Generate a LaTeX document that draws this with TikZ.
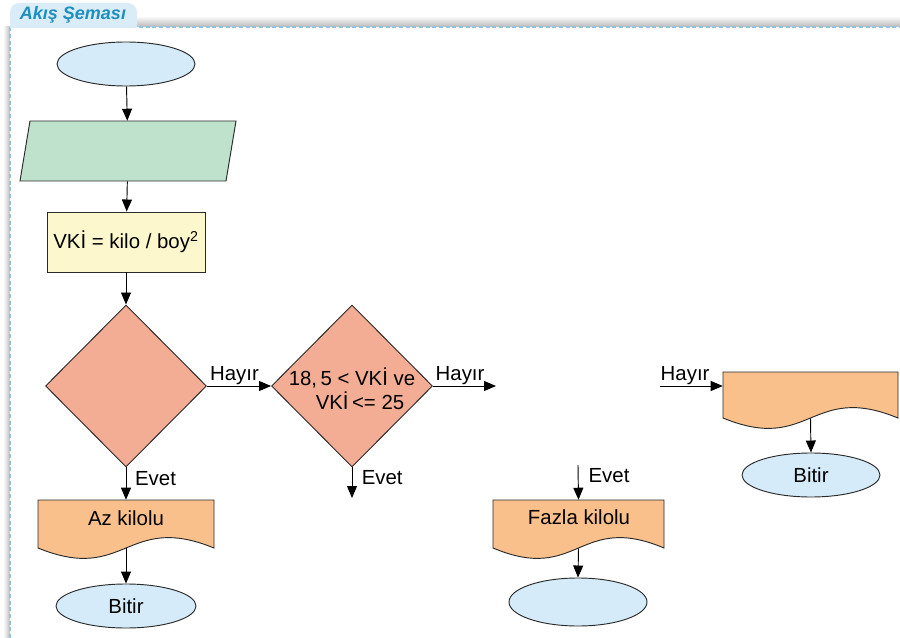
\documentclass[tikz,border=0pt]{standalone}
\usepackage{fontspec}
\setmainfont{Liberation Sans}
\usetikzlibrary{arrows.meta,shapes.geometric}
\definecolor{ellcol}{HTML}{D5EBF9}
\definecolor{iocol}{HTML}{BFE2CD}
\definecolor{proccol}{HTML}{FDF7CD}
\definecolor{deccol}{HTML}{F4AD95}
\definecolor{doccol}{HTML}{F9C08C}
\definecolor{tabcol}{HTML}{DAECF7}
\definecolor{titlecol}{HTML}{1E8FBF}
\definecolor{dashcol}{HTML}{8FC3E0}
\definecolor{linecol}{HTML}{2A2A2A}
\newcommand{\mydoc}[4]{%
  \filldraw[shapeline, fill=doccol] (#1,#2) -- (#3,#2) -- (#3,#4)
    .. controls ({(#1+#3)/2},{#4-36}) and ({(#1+#3)/2},{#4+36}) .. (#1,#4) -- cycle;}
\begin{document}
\begin{tikzpicture}[x=0.75pt,y=-0.75pt,
  every node/.style={font=\fontsize{15.3}{18}\selectfont, text=black},
  shapeline/.style={draw=linecol, line width=0.7pt},
  term/.style={ellipse, shapeline, fill=ellcol, inner sep=0pt, minimum width=103.5pt, minimum height=33pt},
  procbox/.style={rectangle, shapeline, fill=proccol, inner sep=0pt, minimum width=118.5pt, minimum height=45pt},
  decbox/.style={diamond, shapeline, fill=deccol, inner sep=0pt, minimum width=120.75pt, minimum height=121.5pt},
  ghost/.style={rectangle, inner sep=0pt},
  arr/.style={draw=black, line width=0.7pt, -{Triangle[length=9pt,width=7.5pt]}},
  lbl/.style={inner sep=0.5pt},
]
\useasboundingbox (0,0) rectangle (900,638);
\fill[white] (0,0) rectangle (900,638);
% shadows and panel
\shade[top color=white, bottom color=black!28] (137,16) rectangle (900,27);
\shade[left color=white, right color=black!25] (3,27) rectangle (10,638);
\fill[white] (10,27) rectangle (900,638);
\draw[dashcol, line width=0.8pt, dash pattern=on 3pt off 2pt] (10,638) -- (10,27) -- (900,27);
% tab
\fill[tabcol] (10,28) [rounded corners=7pt] -- (10,3) -- (137,3) [sharp corners] -- (137,28) -- cycle;
\node[text=titlecol, font=\fontsize{13.5}{15}\selectfont\bfseries\itshape] (title) at (73,15) {Akış Şeması};

% start
\node[term] (start) at (126,64) {};
% input parallelogram
\node[ghost, minimum width=154.5pt, minimum height=45pt] (io) at (128,151) {};
\filldraw[shapeline, fill=iocol] (30,121) -- (236,121) -- (226,181) -- (20,181) -- cycle;
% process
\node[procbox] (proc) at (126,242) {VKİ = kilo / boy\textsuperscript{2}};
% decisions
\node[decbox] (d1) at (126,386) {};
\node[decbox] (d2) at (352,386) {};
\node[align=center] (d2txt) at (352,389) {18,\,5 < VKİ ve\\\hspace*{12pt}VKİ\,<= 25};

% documents
\mydoc{38}{500}{214}{548}
\node[ghost, minimum width=132pt, minimum height=36pt] (az) at (126,524) {};
\node (aztxt) at (126,518) {Az kilolu};
\mydoc{493}{500}{664}{548}
\node[ghost, minimum width=128.25pt, minimum height=36pt] (fz) at (578.5,524) {};
\node (fztxt) at (579,517) {Fazla kilolu};
\mydoc{723}{372}{898}{418}
\node[ghost, minimum width=131.25pt, minimum height=34.5pt] (nm) at (810.5,395) {};

% end terminals
\node[term, minimum width=105pt] (b1) at (126,606) {Bitir};
\node[term, minimum height=36pt] (b2) at (578,602) {};
\node[term] (b3) at (811,475) {Bitir};

% free ends
\coordinate (h2end) at (496,386);
\coordinate (e2end) at (352,498);
\coordinate (e3start) at (578,465);
\coordinate (h3start) at (660,386);

% connectors
\draw[arr] (start) -- (io);
\draw[arr] (io) -- (proc);
\draw[arr] (proc) -- (d1);
\draw[arr] (d1.east) -- (d2.west) node[lbl, pos=0.43, above=0pt] {Hayır};
\draw[arr] (d2.east) -- (h2end) node[lbl, pos=0.43, above=0pt] {Hayır};
\draw[arr] (d1.south) -- (az.north) node[lbl, pos=0.33, anchor=west, xshift=6pt] {Evet};
\draw[arr] (d2.south) -- (e2end) node[lbl, pos=0.32, anchor=west, xshift=6.5pt] {Evet};
\draw[arr] (e3start) -- (fz.north) node[lbl, pos=0.31, anchor=west, xshift=7pt] {Evet};
\draw[arr] (h3start) -- (h3start -| nm.west) node[lbl, pos=0.4, above=0pt] {Hayır};
\draw[arr] (az.south) -- (b1.north);
\draw[arr] (fz.south) -- (b2.north);
\draw[arr] (nm.south) -- (b3.north);
\end{tikzpicture}
\end{document}
